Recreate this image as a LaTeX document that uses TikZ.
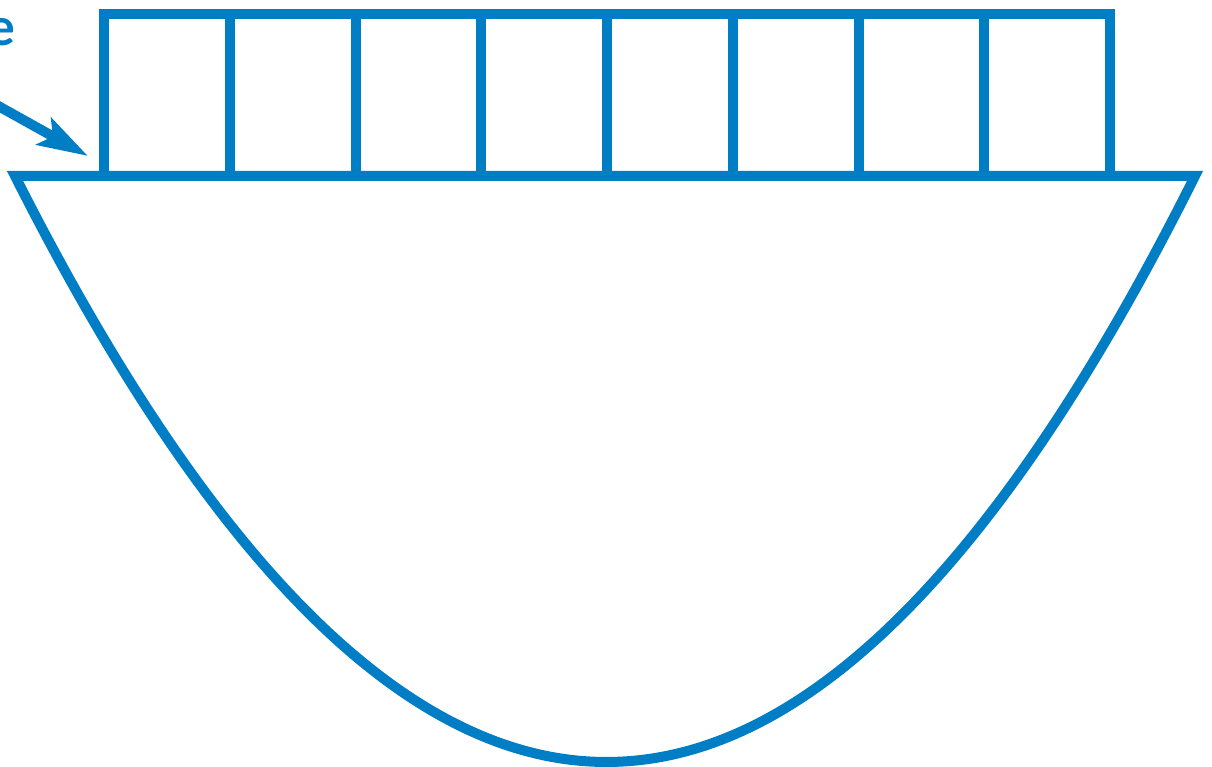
\documentclass[tikz,border=0pt]{standalone}
\usepackage{fontspec}
\newfontfamily\labelfont{Lato}
\usetikzlibrary{arrows.meta}
\definecolor{bowlblue}{RGB}{0,126,197}
\tikzset{
  stroke/.style={draw=bowlblue, line width=10pt, line join=miter},
  cellbox/.style={stroke},
  pointer/.style={draw=bowlblue, line width=10pt, -{Stealth[length=50pt,width=30pt,inset=10pt]}},
}
\begin{document}
\begin{tikzpicture}[x=1pt,y=-1pt]
\useasboundingbox (0,0) rectangle (1212,767);
\begin{scope}
\clip (0,0) rectangle (1212,767);
% bowl
\draw[stroke] (15,176) .. controls (409.7,957.3) and (804.3,957.3) .. (1195,176) -- cycle;
% cells
\foreach \i in {0,...,7}{
  \draw[cellbox] ({104+125.75*\i},14) rectangle ({104+125.75*(\i+1)},176);
}
% label fragment
\node[anchor=base east, inner sep=0pt, text=bowlblue, font=\labelfont\bfseries\fontsize{52}{54}\selectfont] (lbl) at (15,46) {e};
% arrow
\coordinate (astart) at (-25,93);
\coordinate (atip) at (88,156);
\draw[pointer] (astart) -- (atip);
\end{scope}
\end{tikzpicture}
\end{document}
